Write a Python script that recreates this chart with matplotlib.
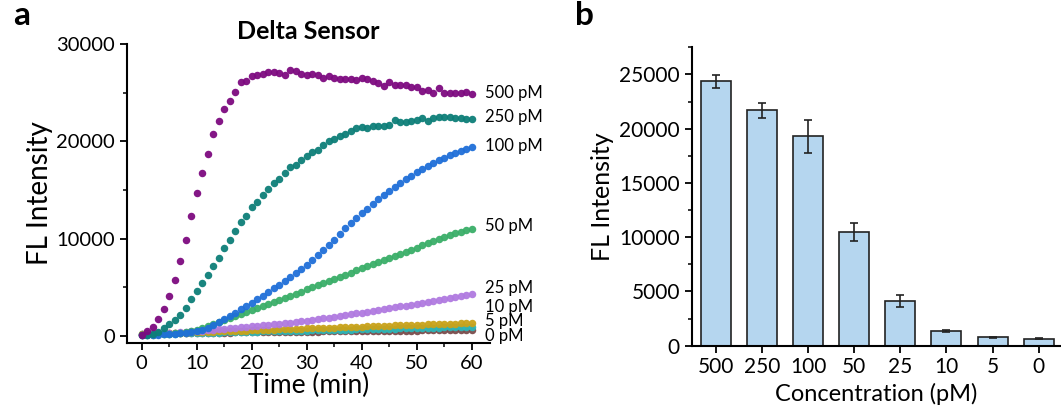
import numpy as np
import matplotlib
matplotlib.use("Agg")
import matplotlib.pyplot as plt
from matplotlib.ticker import MultipleLocator

plt.rcParams['font.family'] = ['Lato', 'DejaVu Sans']

# time course (one reading per minute, 0-60 min)
time_min = list(range(61))

fl_500 = [100, 550, 960, 1710, 2740, 4100, 5710, 7660, 9850, 12350,
          14700, 16760, 18740, 20760, 22090, 23360, 24150, 25070, 26060, 26200,
          26680, 26780, 26900, 27080, 27110, 27000, 26840, 27320, 27220, 26910,
          26800, 26910, 26840, 26560, 26770, 26560, 26460, 26430, 26400, 26290,
          26560, 26400, 26230, 26050, 25710, 26120, 25780, 25810, 25750, 25640,
          25540, 25130, 25270, 24930, 25440, 24930, 25020, 25020, 25020, 25090,
          24900]
fl_250 = [100, 150, 250, 450, 850, 1220, 1600, 2200, 2900, 3760,
          4620, 5470, 6220, 7180, 8040, 9000, 9860, 10800, 11700, 12370,
          13280, 13770, 14460, 15100, 15680, 16160, 16770, 17370, 17600, 18120,
          18520, 18900, 19130, 19610, 20000, 20250, 20600, 20720, 21020, 21330,
          21500, 21330, 21570, 21600, 21570, 21670, 22180, 22010, 21980, 22080,
          22180, 22360, 22080, 22360, 22460, 22530, 22530, 22360, 22400, 22290,
          22290]
fl_100 = [80, 100, 120, 140, 170, 200, 240, 290, 350, 420,
          520, 650, 850, 1100, 1450, 1750, 2080, 2400, 2750, 3080,
          3420, 3750, 4120, 4500, 4880, 5250, 5650, 6050, 6480, 6900,
          7330, 7800, 8300, 8800, 9320, 9850, 10500, 11050, 11580, 12100,
          12600, 13100, 13580, 14050, 14500, 14950, 15350, 15750, 16120, 16480,
          16820, 17150, 17460, 17760, 18050, 18320, 18580, 18820, 19050, 19260,
          19450]
fl_50 = [100, 120, 150, 180, 210, 250, 300, 350, 420, 500,
         620, 780, 980, 1180, 1400, 1620, 1850, 2060, 2260, 2460,
         2660, 2860, 3080, 3300, 3500, 3720, 3930, 4130, 4350, 4560,
         4780, 5000, 5220, 5430, 5650, 5870, 6080, 6300, 6520, 6740,
         6960, 7180, 7380, 7600, 7800, 8020, 8240, 8450, 8660, 8860,
         9080, 9330, 9540, 9750, 10000, 10200, 10400, 10550, 10700, 10850,
         10950]
fl_25 = [150, 180, 210, 240, 280, 310, 350, 390, 430, 470,
         510, 550, 590, 640, 690, 740, 790, 840, 890, 940,
         990, 1040, 1100, 1150, 1210, 1260, 1320, 1380, 1430, 1490,
         1550, 1630, 1710, 1800, 1880, 1970, 2050, 2140, 2220, 2310,
         2400, 2490, 2580, 2670, 2760, 2850, 2940, 3030, 3120, 3220,
         3310, 3410, 3500, 3600, 3700, 3800, 3900, 4000, 4100, 4200,
         4300]
fl_10 = [200, 210, 230, 250, 270, 290, 300, 320, 340, 360,
         380, 400, 420, 440, 460, 480, 500, 520, 540, 560,
         580, 600, 620, 640, 660, 680, 690, 710, 730, 750,
         770, 790, 810, 830, 850, 870, 890, 900, 920, 940,
         960, 980, 1000, 1020, 1040, 1060, 1080, 1100, 1110, 1130,
         1150, 1170, 1190, 1200, 1220, 1240, 1260, 1280, 1300, 1310,
         1330]
fl_5 = [180, 190, 200, 210, 230, 240, 250, 260, 280, 290,
        300, 310, 330, 340, 350, 370, 380, 390, 400, 420,
        430, 440, 460, 470, 480, 490, 510, 520, 530, 550,
        560, 570, 580, 600, 610, 620, 640, 650, 660, 670,
        690, 700, 710, 730, 740, 750, 760, 780, 790, 800,
        820, 830, 840, 850, 870, 880, 890, 900, 910, 920,
        930]
fl_0 = [250, 260, 260, 270, 280, 280, 290, 300, 300, 310,
        310, 320, 330, 330, 340, 350, 350, 360, 360, 370,
        380, 380, 390, 400, 400, 410, 410, 420, 430, 430,
        440, 450, 450, 460, 460, 470, 480, 480, 490, 500,
        500, 510, 510, 520, 530, 530, 540, 550, 550, 560,
        560, 570, 580, 580, 590, 600, 600, 610, 610, 620,
        620]

curve_names = ['500 pM', '250 pM', '100 pM', '50 pM', '25 pM', '10 pM', '5 pM', '0 pM']
label_y = [24990, 22460, 19540, 11330, 4950, 3000, 1500, -50]

# end-point bars
conc_labels = ['500', '250', '100', '50', '25', '10', '5', '0']
bar_mean = [24380, 21700, 19300, 10500, 4130, 1350, 770, 650]
bar_err = [580, 700, 1500, 830, 570, 80, 30, 80]

curves = [fl_500, fl_250, fl_100, fl_50, fl_25, fl_10, fl_5, fl_0]
colors = ['#7d0a80', '#0d7e78', '#1f6fd8', '#3aae68', '#b07ae0',
          '#c9a21a', '#2cb6b8', '#7a4c4c']

fig = plt.figure(figsize=(10.61, 4.12), dpi=100)

# ---- panel a
ax1 = fig.add_axes([0.1194, 0.168, 0.3424, 0.725])
for y, c in zip(curves[::-1], colors[::-1]):
    ax1.plot(time_min, y, 'o', ms=5.4, color=c, mec='none', alpha=0.95)
for name, ly in zip(curve_names, label_y):
    ax1.text(62.4, ly, name, fontsize=12, va='center', ha='left', clip_on=False)

ax1.set_xlim(-2.7, 63.3)
ax1.set_ylim(-700, 30000)
ax1.spines['top'].set_visible(False)
ax1.spines['right'].set_visible(False)
ax1.spines['left'].set_bounds(-700, 30000)
ax1.xaxis.set_major_locator(MultipleLocator(10))
ax1.xaxis.set_minor_locator(MultipleLocator(5))
ax1.yaxis.set_major_locator(MultipleLocator(10000))
ax1.yaxis.set_minor_locator(MultipleLocator(5000))
ax1.tick_params(which='major', length=5, width=1.3, labelsize=14.5)
ax1.tick_params(which='minor', length=3, width=1.1)
for s in ax1.spines.values():
    s.set_linewidth(1.5)
ax1.set_xlabel('Time (min)', fontsize=19, labelpad=1)
ax1.set_ylabel('FL Intensity', fontsize=20, labelpad=2)
ax1.set_title('Delta Sensor', fontsize=18, fontweight='bold', pad=4)

# ---- panel b
ax2 = fig.add_axes([0.652, 0.161, 0.347, 0.724])
xpos = np.arange(len(conc_labels))
ax2.bar(xpos, bar_mean, width=0.65, color='#b5d6ef', edgecolor='#222222', linewidth=1.2)
ax2.errorbar(xpos, bar_mean, yerr=bar_err, fmt='none', ecolor='#222222',
             elinewidth=1.2, capsize=3, capthick=1.2)
ax2.set_xticks(xpos)
ax2.set_xticklabels(conc_labels)
ax2.set_xlim(-0.52, 7.46)
ax2.set_ylim(0, 27500)
ax2.spines['top'].set_visible(False)
ax2.spines['right'].set_visible(False)
ax2.yaxis.set_major_locator(MultipleLocator(5000))
ax2.yaxis.set_minor_locator(MultipleLocator(2500))
ax2.tick_params(which='major', length=5, width=1.3, labelsize=15)
ax2.tick_params(which='minor', length=3, width=1.1)
for s in ax2.spines.values():
    s.set_linewidth(1.5)
ax2.set_xlabel('Concentration (pM)', fontsize=17, labelpad=4)
ax2.set_ylabel('FL Intensity', fontsize=18, labelpad=4)

fig.text(0.012, 0.94, 'a', fontsize=24, fontweight='bold')
fig.text(0.542, 0.94, 'b', fontsize=24, fontweight='bold')

fig.savefig('out.png', dpi=100)
